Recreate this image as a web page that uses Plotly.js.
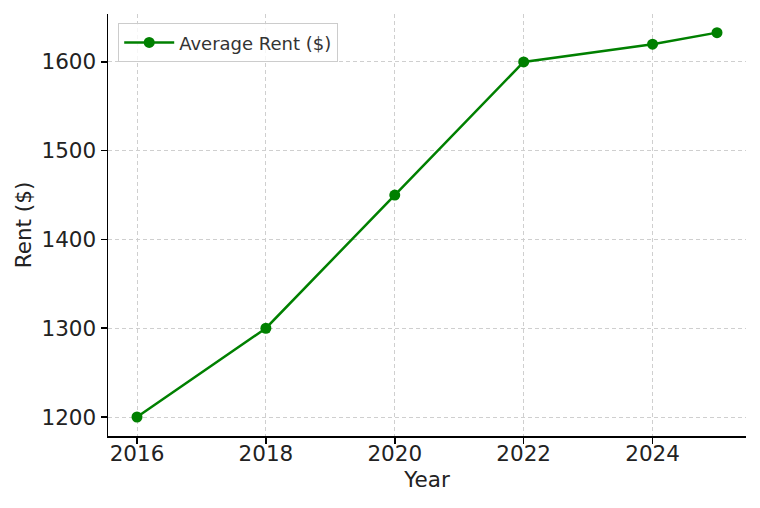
<!DOCTYPE html>
<html>
<head>
<meta charset="utf-8">
<script src="https://cdn.plot.ly/plotly-3.0.1.min.js"></script>
<style>html,body{margin:0;padding:0;background:#fff;}#chart{width:760px;height:508px;}</style>
</head>
<body>
<div id="chart"></div>
<script>
const years = [2016, 2018, 2020, 2022, 2024, 2025];
const rent = [1200, 1300, 1450, 1600, 1620, 1633];
const seriesName = "Average Rent ($)";
const xTicks = [2016, 2018, 2020, 2022, 2024];
const yTicks = [1200, 1300, 1400, 1500, 1600];

const trace = {
  x: years, y: rent, name: seriesName, type: 'scatter', mode: 'lines+markers',
  line: {color: '#008000', width: 2.5},
  marker: {color: '#008000', size: 11}
};
const axisCommon = {
  showline: true, linecolor: '#000', linewidth: 1.5,
  ticks: 'outside', ticklen: 6, tickwidth: 1.5, tickcolor: '#000',
  showgrid: true, gridcolor: '#cfcfcf', griddash: '4px,3px', gridwidth: 1,
  zeroline: false, mirror: false,
  tickfont: {family: 'DejaVu Sans', size: 21.5, color: '#222'}
};
const layout = {
  width: 760, height: 508,
  margin: {l: 108, r: 14, t: 14, b: 72},
  paper_bgcolor: '#fff', plot_bgcolor: '#fff',
  showlegend: true,
  legend: {x: 0.016, y: 0.978, xanchor: 'left', yanchor: 'top',
    bgcolor: 'rgba(255,255,255,0.8)', bordercolor: '#cccccc', borderwidth: 1,
    itemwidth: 50,
    font: {family: 'DejaVu Sans', size: 18, color: '#333'}},
  xaxis: Object.assign({}, axisCommon, {
    range: [2015.55, 2025.45], tickvals: xTicks, ticktext: xTicks.map(String),
    ticklabelstandoff: -8,
    title: {text: 'Year', font: {family: 'DejaVu Sans', size: 21.5, color: '#222'}, standoff: 6}
  }),
  yaxis: Object.assign({}, axisCommon, {
    range: [1178.6, 1654], tickvals: yTicks, ticktext: yTicks.map(String),
    title: {text: 'Rent ($)', font: {family: 'DejaVu Sans', size: 21.5, color: '#222'}, standoff: 4}
  })
};
Plotly.newPlot('chart', [trace], layout, {displayModeBar: false, staticPlot: true});
</script>
</body>
</html>
